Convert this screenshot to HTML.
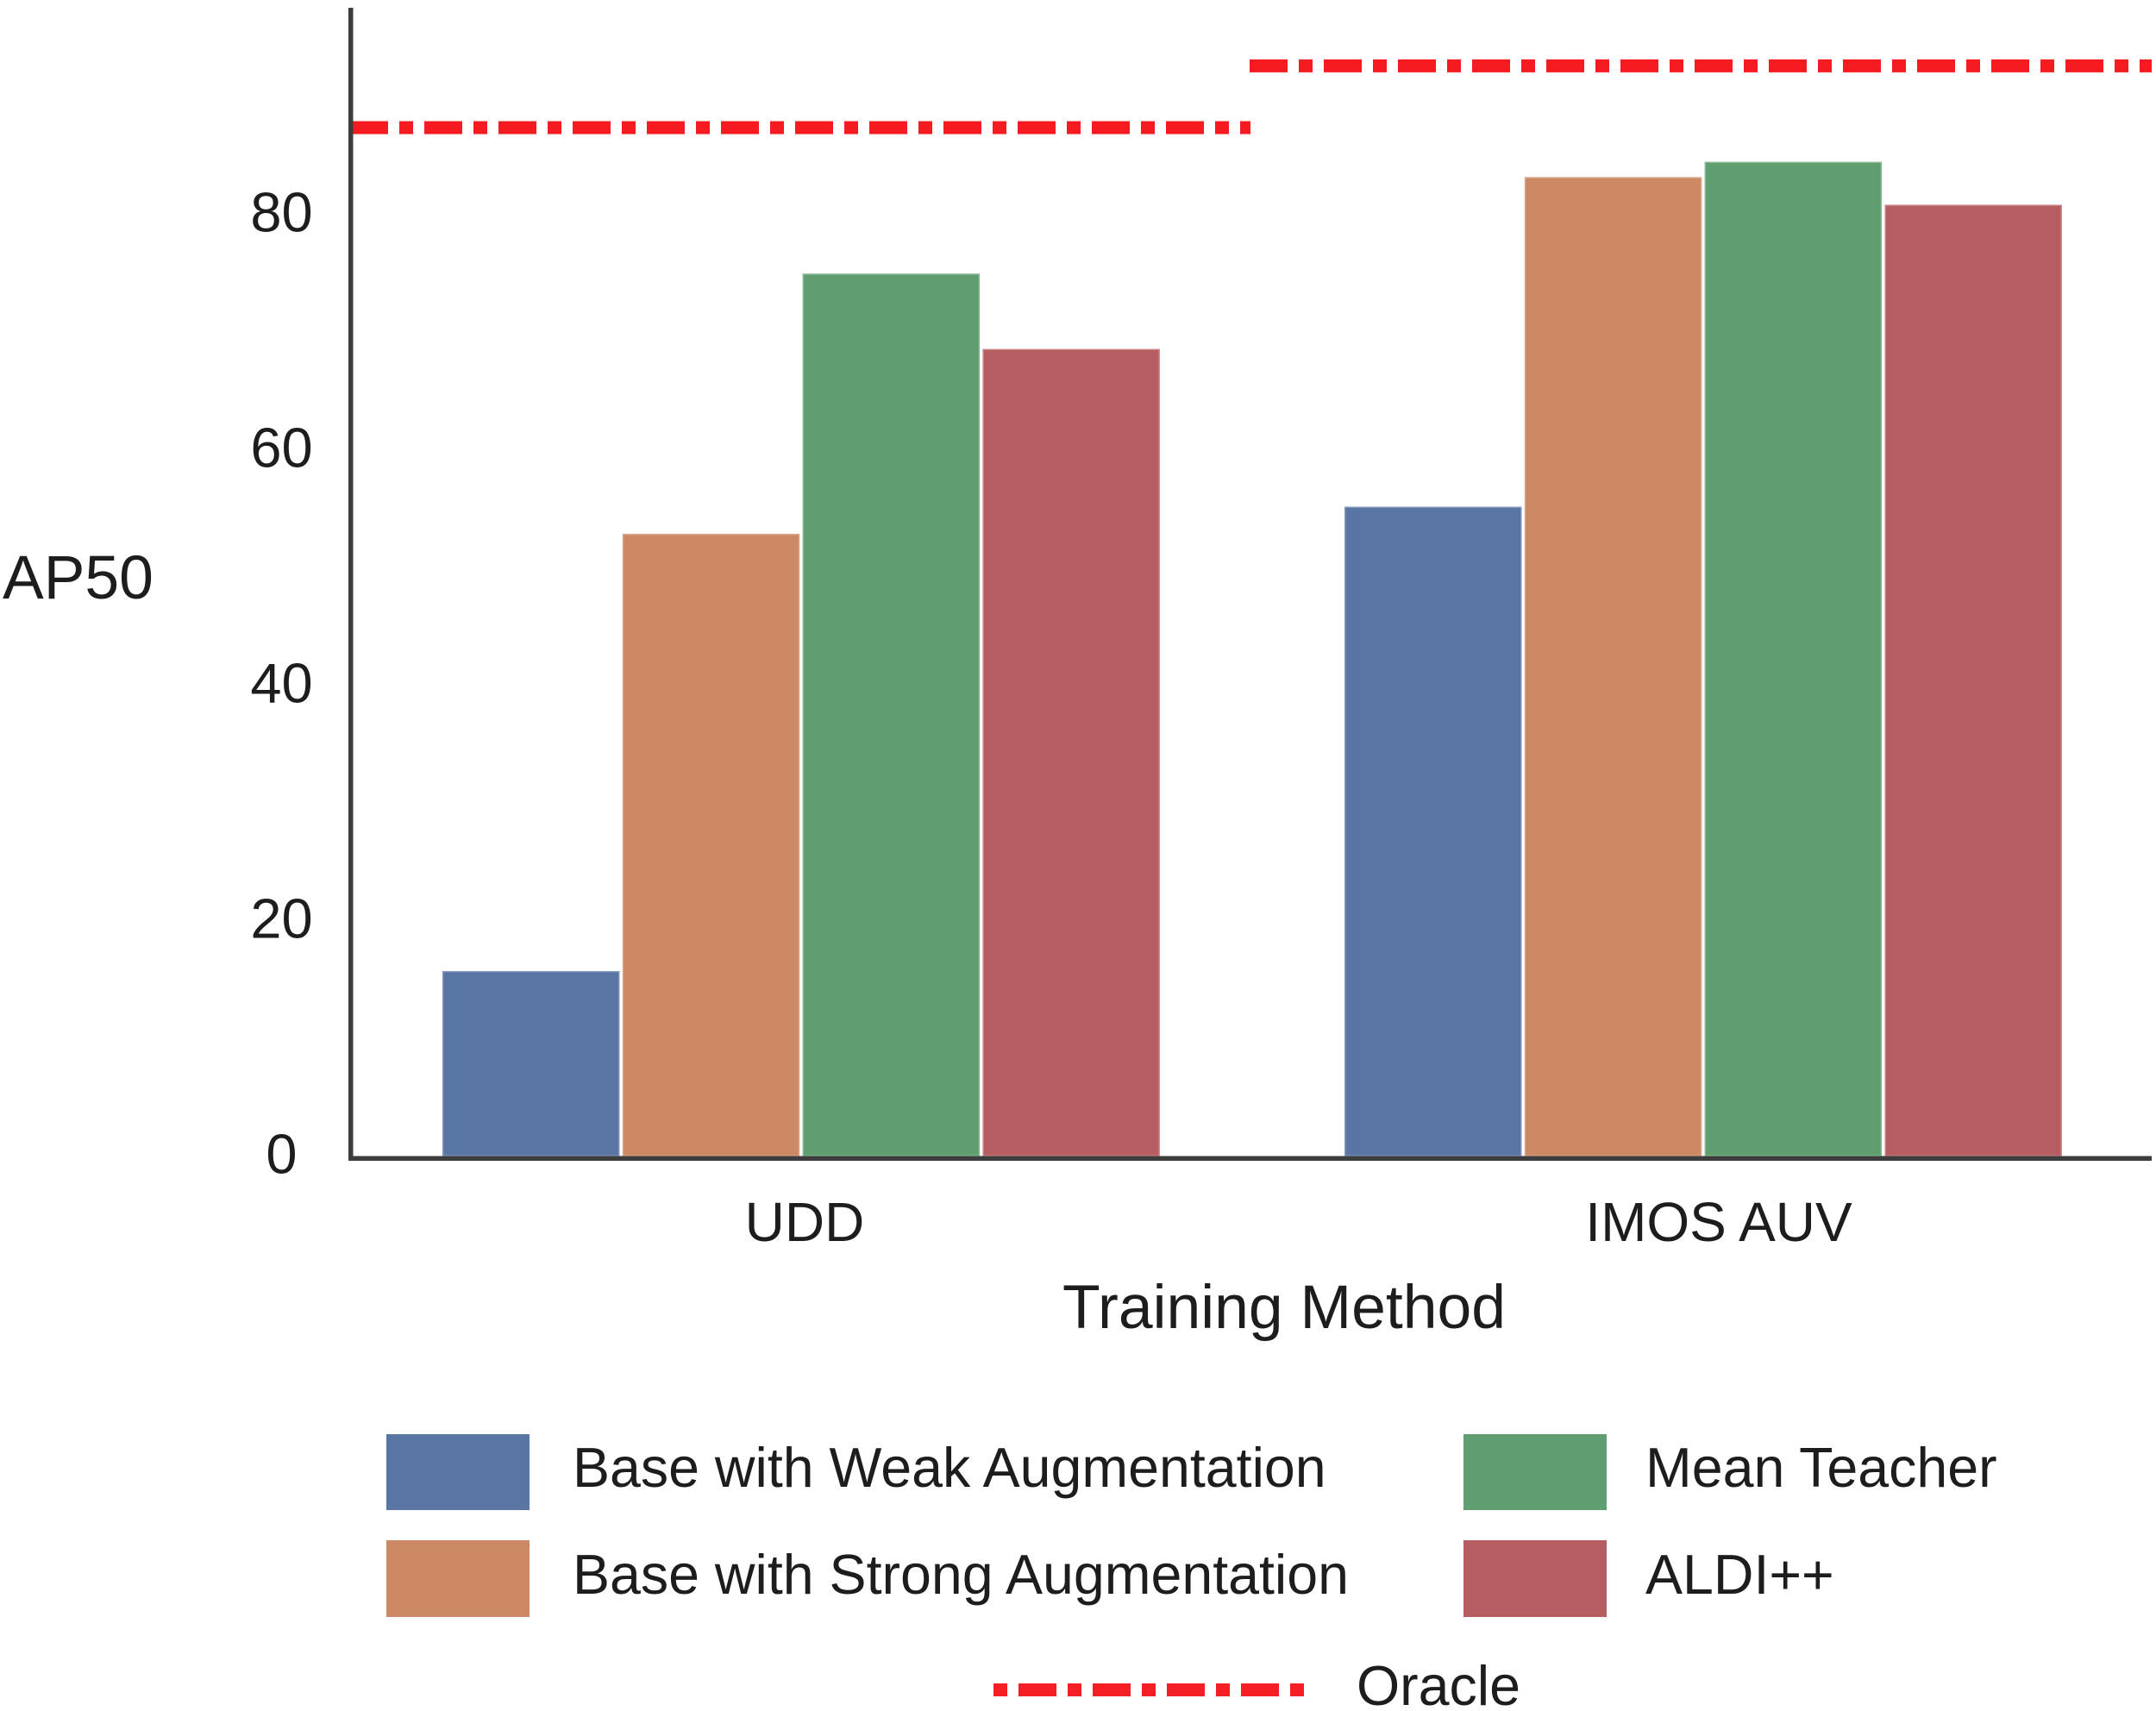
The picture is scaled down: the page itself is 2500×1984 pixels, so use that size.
<!DOCTYPE html>
<html lang="en">
<head>
<meta charset="utf-8">
<title>AP50 by Training Method</title>
<style>
html,body{margin:0;padding:0;background:#fff;}
svg{display:block;}
text{font-family:"Liberation Sans",Arial,sans-serif;fill:#1d1d1d;}
</style>
</head>
<body>
<svg id="chart" xmlns="http://www.w3.org/2000/svg" width="2500" height="1984" viewBox="0 0 2500 1984">
<rect x="0" y="0" width="2500" height="1984" fill="#fff"/>
<g id="bars"></g>
<g id="oracles"></g>
<rect x="404" y="9" width="5.5" height="1337" fill="#3d3d3d"/>
<rect x="404" y="1340.5" width="2091" height="5.5" fill="#3d3d3d"/>
<g id="ticks"></g>
<text x="3" y="694" font-size="71.5">AP50</text>
<text x="1232" y="1540" font-size="71.5">Training Method</text>
<g>
  <g>
    <rect x="448" y="1663" width="166" height="88" fill="#5975a4"/>
    <text x="664" y="1724" font-size="64.5">Base with Weak Augmentation</text>
  </g>
  <g>
    <rect x="448" y="1786" width="166" height="89" fill="#cc8963"/>
    <text x="664" y="1848" font-size="64.5">Base with Strong Augmentation</text>
  </g>
  <g>
    <rect x="1697" y="1663" width="166" height="88" fill="#5f9e6e"/>
    <text x="1908" y="1724" font-size="64.5">Mean Teacher</text>
  </g>
  <g>
    <rect x="1697" y="1786" width="166" height="89" fill="#b55d60"/>
    <text x="1908" y="1848" font-size="64.5">ALDI++</text>
  </g>
  <g>
    <line x1="1152" y1="1959.5" x2="1512" y2="1959.5" stroke="#f41e24" stroke-width="15" stroke-dasharray="16 13 44 13"/>
    <text x="1573" y="1977" font-size="64.5">Oracle</text>
  </g>
</g>
</svg>
<script>
const categories = ["UDD", "IMOS AUV"];
const seriesNames = ["Base with Weak Augmentation", "Base with Strong Augmentation", "Mean Teacher", "ALDI++"];
const baseWeak = [15.75, 55.2];
const baseStrong = [52.9, 83.2];
const meanTeacher = [75.0, 84.5];
const aldi = [68.6, 80.85];
const oracle = [87.4, 92.65];
const yTicks = [0, 20, 40, 60, 80];
const seriesColors = ["#5975a4", "#cc8963", "#5f9e6e", "#b55d60"];
const allSeries = [baseWeak, baseStrong, meanTeacher, aldi];

const NS = "http://www.w3.org/2000/svg";
function yScale(v) { return 1341 - v * 13.65; }
function groupCenter(i) { return 929 + 1046 * i; }
function barLeft(i, s) { return groupCenter(i) - 416 + s * 208.8; }
function catLabelX(i) { return 933 + 1060 * i; }
function oracleStart(i) { return 406 + 1043 * i; }
function oracleEnd(i) { return 1450 + 1045 * i; }

const barsG = document.getElementById("bars");
allSeries.forEach(function (vals, s) {
  vals.forEach(function (v, i) {
    const r = document.createElementNS(NS, "rect");
    
    
    const top = yScale(v);
    r.setAttribute("x", barLeft(i, s));
    r.setAttribute("y", top);
    r.setAttribute("width", 205.5);
    r.setAttribute("height", yScale(0) - top);
    r.setAttribute("fill", seriesColors[s]);
    r.setAttribute("stroke", "rgba(255,255,255,0.25)");
    r.setAttribute("stroke-width", "3");
    barsG.appendChild(r);
  });
});

const oracleG = document.getElementById("oracles");
oracle.forEach(function (v, i) {
  const l = document.createElementNS(NS, "line");
  
  
  l.setAttribute("x1", oracleStart(i));
  l.setAttribute("x2", oracleEnd(i));
  l.setAttribute("y1", yScale(v));
  l.setAttribute("y2", yScale(v));
  l.setAttribute("stroke", "#f61b21");
  l.setAttribute("stroke-width", "15");
  l.setAttribute("stroke-dasharray", "44 13 16 13");
  oracleG.appendChild(l);
});

const ticksG = document.getElementById("ticks");
yTicks.forEach(function (t) {
  const e = document.createElementNS(NS, "text");
  
  
  e.setAttribute("x", 326.5);
  e.setAttribute("y", yScale(t) + 19.5);
  e.setAttribute("font-size", "65");
  e.setAttribute("text-anchor", "middle");
  e.textContent = String(t);
  ticksG.appendChild(e);
});
categories.forEach(function (c, i) {
  const e = document.createElementNS(NS, "text");
  
  
  e.setAttribute("x", catLabelX(i));
  e.setAttribute("y", 1439);
  e.setAttribute("font-size", "64");
  e.setAttribute("text-anchor", "middle");
  e.textContent = c;
  ticksG.appendChild(e);
});
</script>
</body>
</html>
